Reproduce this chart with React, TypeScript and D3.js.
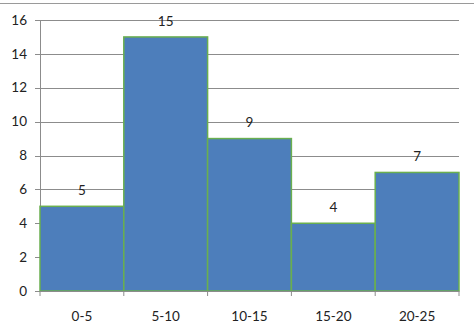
import React from "react";
import * as d3 from "d3";

const categories = ["0-5", "5-10", "10-15", "15-20", "20-25"];
const counts = [5, 15, 9, 4, 7];
const yTicks = [0, 2, 4, 6, 8, 10, 12, 14, 16];

const W = 474;
const H = 334;
const left = 40;
const right = 459;
const top = 20;
const bottom = 291;

export default function App() {
  const x = d3.scaleBand<string>().domain(categories).range([left, right]).padding(0);
  const y = d3.scaleLinear().domain([0, 16]).range([bottom, top]);
  const font = "Lato, 'Open Sans', sans-serif";
  const edges = [left, ...categories.map((c) => (x(c) as number) + x.bandwidth())];
  return (
    <svg
      width={W}
      height={H}
      style={{ position: "absolute", left: 0, top: 0, background: "#fff" }}
      fontFamily={font}
    >
      <line x1={0} x2={W} y1={3.5} y2={3.5} stroke="#9a9a9a" strokeWidth={1} />
      {yTicks.map((t) => (
        <g key={t}>
          <line x1={left - 5} x2={right} y1={Math.round(y(t)) + 0.5} y2={Math.round(y(t)) + 0.5} stroke="#8c8c8c" strokeWidth={1} />
          <text x={27} y={y(t)} dy="0.35em" textAnchor="end" fontSize={13.5} fill="#222">
            {t}
          </text>
        </g>
      ))}
      <line x1={left + 0.5} x2={left + 0.5} y1={top} y2={bottom} stroke="#8c8c8c" />
      {categories.map((c, i) => (
        <rect
          key={c}
          x={x(c) as number}
          y={y(counts[i])}
          width={x.bandwidth()}
          height={bottom - y(counts[i])}
          fill="#4D7EBB"
          stroke="#6AAF4F"
          strokeWidth={1.5}
        />
      ))}
      <line x1={left} x2={right} y1={bottom + 0.5} y2={bottom + 0.5} stroke="#8c8c8c" />
      {edges.map((e, i) => (
        <line key={i} x1={e} x2={e} y1={bottom} y2={bottom + 5} stroke="#8c8c8c" />
      ))}
      {categories.map((c, i) => (
        <text
          key={"v" + c}
          x={(x(c) as number) + x.bandwidth() / 2}
          y={y(counts[i]) - 16}
          dy="0.35em"
          textAnchor="middle"
          fontSize={13.5}
          fill="#222"
        >
          {counts[i]}
        </text>
      ))}
      {categories.map((c) => (
        <text
          key={"x" + c}
          x={(x(c) as number) + x.bandwidth() / 2}
          y={316}
          dy="0.35em"
          textAnchor="middle"
          fontSize={13.5}
          fill="#222"
        >
          {c}
        </text>
      ))}
    </svg>
  );
}
